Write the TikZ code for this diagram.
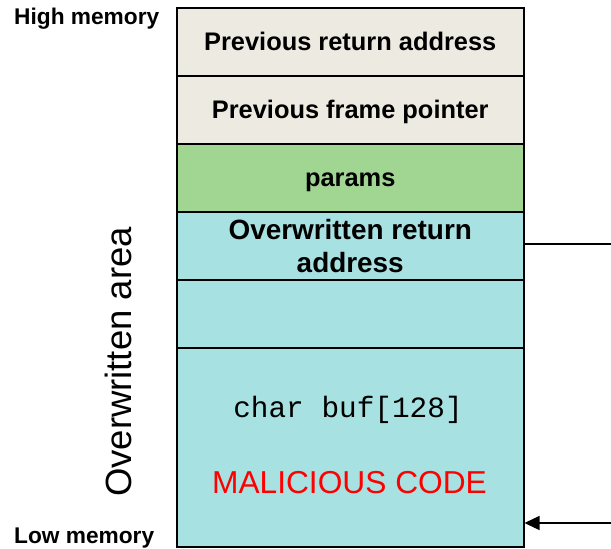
\documentclass[tikz,border=0pt]{standalone}
\usepackage{fontspec}
\setmainfont{Liberation Sans}
\setmonofont{Liberation Mono}
\usetikzlibrary{arrows.meta}
\definecolor{beige}{RGB}{237,234,225}
\definecolor{pgreen}{RGB}{160,213,146}
\definecolor{pcyan}{RGB}{168,225,226}
\definecolor{mred}{RGB}{255,0,0}
\tikzset{
  cellbox/.style={draw=black, line width=1.5pt, anchor=north west, inner sep=0pt,
    minimum width=347pt, minimum height=68pt, align=center,
    font=\bfseries\fontsize{25.4}{30}\selectfont},
  cell/.style={cellbox, text height=18pt, text depth=0pt},
  side/.style={font=\bfseries\fontsize{22.7}{26}\selectfont, inner sep=0pt},
  conn/.style={line width=1.3pt}
}
\begin{document}
\begin{tikzpicture}[x=1pt,y=-1pt]
\useasboundingbox (0,0) rectangle (611,549);
\node[cell, fill=beige] (r1) at (176,7) {Previous return address};
\node[cell, fill=beige] (r2) at (176,75) {Previous frame pointer};
\node[cell, fill=pgreen] (r3) at (176,143) {params};
\node[cellbox, fill=pcyan, font=\bfseries\fontsize{27.9}{33}\selectfont] (r4) at (176,211) {Overwritten return\\address};
\node[cellbox, fill=pcyan] (r5) at (176,279) {};
\node[cellbox, fill=pcyan, minimum height=199pt] (r6) at (176,347) {};
\node[font=\ttfamily\fontsize{29.4}{30}\selectfont, inner sep=0pt] (buf) at (348,410) {char buf[128]};
\node[font=\fontsize{31.7}{34}\selectfont, text=mred, inner sep=0pt] (mal) at (349.5,483) {MALICIOUS CODE};
\node[side, anchor=west] (hi) at (14,19) {High memory};
\node[side, anchor=west] (lo) at (14,538) {Low memory};
\node[font=\fontsize{36.5}{40}\selectfont, rotate=90, inner sep=0pt] (ow) at (118,362) {Overwritten area};
\coordinate (e1) at (611,244);
\coordinate (e2) at (611,523);
\draw[conn] (r4.east |- e1) -- (e1);
\draw[conn, -{Triangle[length=15pt,width=14pt]}] (e2) -- (r6.east |- e2);
\end{tikzpicture}
\end{document}
